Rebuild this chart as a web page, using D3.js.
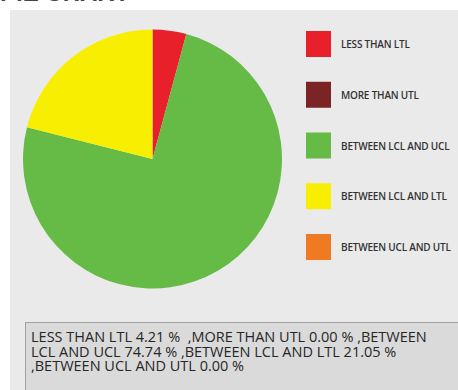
<!DOCTYPE html>
<html>
<head>
<meta charset="utf-8">
<script src="https://cdn.jsdelivr.net/npm/d3@7"></script>
<style>
	body { margin: 0; background: #fff; }
	svg { display: block; }
</style>
</head>
<body>
<svg id="chart"></svg>
<script>
/*=================
=== The data
=================*/
var categories = ['LESS THAN LTL', 'MORE THAN UTL', 'BETWEEN LCL AND UCL', 'BETWEEN LCL AND LTL', 'BETWEEN UCL AND UTL'];
var percents = [4.21, 0.00, 74.74, 21.05, 0.00];
var sliceColors = ['#e8202a', '#7b2426', '#66bb46', '#f8ee02', '#f07a22'];

var width = 458;
var height = 390;

var svg = d3.select('#chart')
	.attr('width', width)
	.attr('height', height);

// title, mostly cut off by the top edge
svg.append('text')
	.attr('x', 0)
	.attr('y', 1)
	.style('font', 'bold 24px "Liberation Sans", Arial, sans-serif')
	.style('fill', '#444')
	.text('PIE CHART');

// grey panel
svg.append('rect')
	.attr('x', 10)
	.attr('y', 10)
	.attr('width', width - 10)
	.attr('height', height - 10)
	.attr('fill', '#eaeaea');

/*=================
=== The pie
=================*/
var pieData = categories.map(function (c, i) { return { key: c, value: percents[i] }; });

var pie = d3.pie()
	.sort(null)
	.value(function (d) { return d.value; });

var arc = d3.arc()
	.innerRadius(0)
	.outerRadius(129.5);

var color = d3.scaleOrdinal().domain(categories).range(sliceColors);

var pieG = svg.append('g')
	.attr('transform', 'translate(152.5,159)');

pieG.selectAll('path')
	.data(pie(pieData))
	.enter()
	.append('path')
	.attr('d', arc)
	.attr('fill', function (d) { return color(d.data.key); });

/*=================
=== Legend
=================*/
var legendY = d3.scalePoint().domain(categories).range([44, 247]);

var legend = svg.append('g');
var item = legend.selectAll('.item')
	.data(categories)
	.enter()
	.append('g')
	.attr('class', 'item')
	.attr('transform', function (d) { return 'translate(306,' + legendY(d) + ')'; });

item.append('rect')
	.attr('x', 0)
	.attr('y', -13)
	.attr('width', 25)
	.attr('height', 26)
	.attr('fill', function (d) { return color(d); });

item.append('text')
	.attr('x', 35)
	.attr('y', 4)
	.style('font', '600 10px "Open Sans", sans-serif')
	.style('letter-spacing', '-0.2px')
	.style('fill', '#333')
	.text(function (d) { return d; });

/*=================
=== Summary box
=================*/
svg.append('rect')
	.attr('x', 25.5)
	.attr('y', 322.5)
	.attr('width', 440)
	.attr('height', 80)
	.attr('fill', '#dadada')
	.attr('stroke', '#a0a0a0')
	.attr('stroke-width', 1);

var fmt = d3.format('.2f');
var parts = categories.map(function (c, i) { return c + ' ' + fmt(percents[i]) + ' %'; });
var lines = [
	parts[0] + '  ,' + parts[1] + ' ,BETWEEN',
	'LCL AND UCL ' + fmt(percents[2]) + ' % ,' + parts[3],
	',' + parts[4]
];

// one wrapped text block
var summary = svg.append('text')
	.attr('x', 31)
	.attr('y', 342)
	.style('font', '14.5px "Open Sans", sans-serif')
	.style('fill', '#262626')
	.style('white-space', 'pre');

summary.selectAll('tspan')
	.data(lines)
	.enter()
	.append('tspan')
	.attr('x', 31)
	.attr('dy', function (d, i) { return i === 0 ? 0 : 14.7; })
	.text(function (d) { return d; });
</script>
</body>
</html>
